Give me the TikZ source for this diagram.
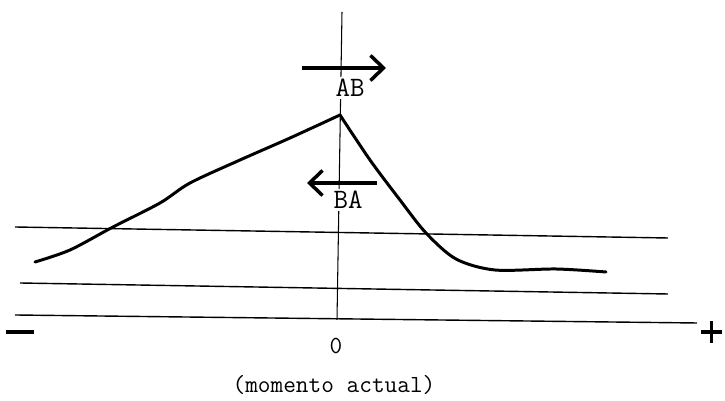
\documentclass[tikz,border=0pt]{standalone}
\usepackage{fontspec}
\usetikzlibrary{arrows.meta}
\tikzset{
  guia/.style={line width=0.8pt},
  flecha/.style={line width=2.2pt,-{Straight Barb[length=2.6mm,width=5mm,line width=2pt]}},
  etiq/.style={font=\ttfamily\fontsize{16}{16}\selectfont,fill=white,inner sep=1pt},
  rotulo/.style={font=\ttfamily\fontsize{14}{14}\selectfont}
}
\begin{document}
\begin{tikzpicture}[x=0.02cm,y=-0.02cm]
    \path[use as bounding box] (0,0) rectangle (725,401);
    % lineas horizontales
    \draw[guia] (15,227) -- (668,238);
    \draw[guia] (20,283) -- (668,294);
    \draw[guia] (15,315) -- (697,323);
    % eje vertical (momento actual)
    \coordinate (arriba) at (342,12);
    \coordinate (cero) at (337,320);
    \draw[line width=0.6pt] (arriba) -- (cero);
    % sentidos
    \coordinate (ab1) at (302,68);
    \coordinate (ab2) at (386,68);
    \coordinate (ba1) at (377,183);
    \coordinate (ba2) at (307,183);
    \draw[flecha] (ab1) -- (ab2);
    \draw[flecha] (ba1) -- (ba2);
    \node[etiq] (AB) at (350,88) {AB};
    \node[etiq] (BA) at (348,200) {BA};
    % curva
    \coordinate (pico) at (340,115);
    \draw[line width=1.7pt,line cap=round] plot[smooth,tension=0.5] coordinates {
      (35,262) (70,250) (113,227) (160,203) (190,183) (240,160) (290,138) (pico)};
    \draw[line width=1.7pt,line cap=round] plot[smooth,tension=0.5] coordinates {
      (pico) (370,160) (400,200) (426,233) (456,259) (495,270) (556,269) (606,272)};
    % rotulos
    \node (menos) at (20,332) {\rule{16pt}{2pt}};
    \node (mas) at (716,332) {\rule[-1pt]{2pt}{12pt}\kern-7pt\rule[4pt]{12pt}{2pt}};
    \node[rotulo] (c0) at (336,346) {0};
    \node[rotulo] (ahora) at (334,385) {(momento actual)};
  \end{tikzpicture}
\end{document}
